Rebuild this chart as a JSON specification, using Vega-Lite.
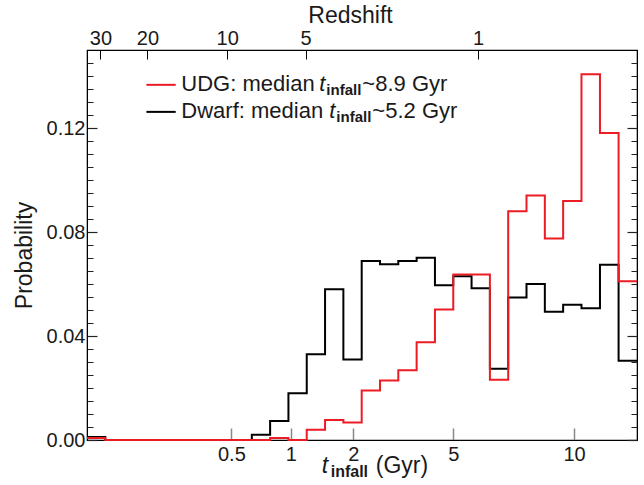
{
 "$schema": "https://vega.github.io/schema/vega-lite/v6.json",
 "width": 550,
 "height": 390,
 "autosize": {"type": "none"},
 "padding": {"left": 87, "top": 50, "right": 7, "bottom": 45},
 "datasets": {
  "hist": [
   {"series": "Dwarf", "t": 0.085, "p": 0.0012},
   {"series": "Dwarf", "t": 0.1063, "p": 0},
   {"series": "Dwarf", "t": 0.1337, "p": 0},
   {"series": "Dwarf", "t": 0.1681, "p": 0},
   {"series": "Dwarf", "t": 0.2105, "p": 0},
   {"series": "Dwarf", "t": 0.263, "p": 0},
   {"series": "Dwarf", "t": 0.3286, "p": 0},
   {"series": "Dwarf", "t": 0.4105, "p": 0},
   {"series": "Dwarf", "t": 0.5124, "p": 0},
   {"series": "Dwarf", "t": 0.6348, "p": 0.002},
   {"series": "Dwarf", "t": 0.7862, "p": 0.0073},
   {"series": "Dwarf", "t": 0.9739, "p": 0.018},
   {"series": "Dwarf", "t": 1.194, "p": 0.033},
   {"series": "Dwarf", "t": 1.462, "p": 0.058},
   {"series": "Dwarf", "t": 1.79, "p": 0.031},
   {"series": "Dwarf", "t": 2.158, "p": 0.0688},
   {"series": "Dwarf", "t": 2.552, "p": 0.0676},
   {"series": "Dwarf", "t": 3.018, "p": 0.0688},
   {"series": "Dwarf", "t": 3.57, "p": 0.0701},
   {"series": "Dwarf", "t": 4.222, "p": 0.0595},
   {"series": "Dwarf", "t": 4.994, "p": 0.063},
   {"series": "Dwarf", "t": 5.55, "p": 0.0584},
   {"series": "Dwarf", "t": 6.167, "p": 0.0274},
   {"series": "Dwarf", "t": 6.851, "p": 0.0548},
   {"series": "Dwarf", "t": 7.611, "p": 0.06},
   {"series": "Dwarf", "t": 8.457, "p": 0.0493},
   {"series": "Dwarf", "t": 9.395, "p": 0.052},
   {"series": "Dwarf", "t": 10.39, "p": 0.0507},
   {"series": "Dwarf", "t": 11.42, "p": 0.0674},
   {"series": "Dwarf", "t": 12.56, "p": 0.0305},
   {"series": "Dwarf", "t": 13.8, "p": 0.0305},
   {"series": "UDG", "t": 0.085, "p": 0.0008},
   {"series": "UDG", "t": 0.1063, "p": 0},
   {"series": "UDG", "t": 0.1337, "p": 0},
   {"series": "UDG", "t": 0.1681, "p": 0},
   {"series": "UDG", "t": 0.2105, "p": 0},
   {"series": "UDG", "t": 0.263, "p": 0},
   {"series": "UDG", "t": 0.3286, "p": 0},
   {"series": "UDG", "t": 0.4105, "p": 0},
   {"series": "UDG", "t": 0.5124, "p": 0},
   {"series": "UDG", "t": 0.6348, "p": 0},
   {"series": "UDG", "t": 0.7862, "p": 0.0008},
   {"series": "UDG", "t": 0.9739, "p": 0},
   {"series": "UDG", "t": 1.194, "p": 0.0039},
   {"series": "UDG", "t": 1.462, "p": 0.0077},
   {"series": "UDG", "t": 1.79, "p": 0.0067},
   {"series": "UDG", "t": 2.158, "p": 0.019},
   {"series": "UDG", "t": 2.552, "p": 0.0229},
   {"series": "UDG", "t": 3.018, "p": 0.0268},
   {"series": "UDG", "t": 3.57, "p": 0.0376},
   {"series": "UDG", "t": 4.222, "p": 0.0502},
   {"series": "UDG", "t": 4.994, "p": 0.0637},
   {"series": "UDG", "t": 5.55, "p": 0.0637},
   {"series": "UDG", "t": 6.167, "p": 0.0232},
   {"series": "UDG", "t": 6.851, "p": 0.088},
   {"series": "UDG", "t": 7.611, "p": 0.094},
   {"series": "UDG", "t": 8.457, "p": 0.0775},
   {"series": "UDG", "t": 9.395, "p": 0.0919},
   {"series": "UDG", "t": 10.39, "p": 0.1407},
   {"series": "UDG", "t": 11.42, "p": 0.1181},
   {"series": "UDG", "t": 12.56, "p": 0.0611},
   {"series": "UDG", "t": 13.8, "p": 0.0611}
  ]
 },
 "config": {
  "font": "Liberation Sans",
  "view": {"stroke": "black", "strokeWidth": 1.2},
  "axis": {
   "grid": false,
   "labelFont": "Liberation Sans",
   "labelFontSize": 20,
   "labelColor": "#1a1a1a",
   "titleFont": "Liberation Sans",
   "titleFontSize": 23,
   "titleFontWeight": "normal",
   "titleColor": "#1a1a1a",
   "domainColor": "black",
   "tickColor": "#222222",
   "labelOverlap": false,
   "labelFlush": false
  }
 },
 "resolve": {"axis": {"x": "independent", "y": "independent"}},
 "layer": [
  {
   "data": {"name": "hist"},
   "transform": [{"filter": "datum.series === 'Dwarf'"}],
   "mark": {"type": "line", "interpolate": "step-after", "color": "black", "strokeWidth": 2},
   "encoding": {
    "x": {
     "field": "t", "type": "quantitative",
     "scale": {"type": "log", "domain": [0.085, 0.1, 0.18, 0.5, 1, 2, 5, 10, 13.8], "range": [0, 13.4, 60.4, 144.4, 203.7, 266.4, 366.4, 487, 550], "nice": false},
     "axis": {"orient": "bottom", "values": [0.5, 1, 2, 5, 10], "format": "~g", "tickSize": -12, "tickColor": "#888888", "tickWidth": 1.5, "labelPadding": 16, "title": null}
    },
    "y": {
     "field": "p", "type": "quantitative",
     "scale": {"domain": [0, 0.15], "nice": false, "zero": true},
     "axis": {"orient": "left", "values": [0, 0.04, 0.08, 0.12], "format": ".2f", "tickSize": -10, "tickWidth": 1.2, "labelPadding": 12, "title": "Probability", "titleX": -63, "titleY": 205, "titleAlign": "center", "titleBaseline": "middle", "titleAngle": 270}
    }
   }
  },
  {
   "data": {"name": "hist"},
   "transform": [{"filter": "datum.series === 'UDG'"}],
   "mark": {"type": "line", "interpolate": "step-after", "color": "#ec1c24", "strokeWidth": 2},
   "encoding": {
    "x": {
     "field": "t", "type": "quantitative",
     "axis": {"orient": "top", "values": [0.1, 0.18, 0.475, 1.18, 5.76], "labelExpr": "datum.value < 0.15 ? '30' : datum.value < 0.3 ? '20' : datum.value < 0.8 ? '10' : datum.value < 3 ? '5' : '1'", "tickSize": -9, "tickColor": "black", "labelPadding": 11, "title": "Redshift", "titleX": 263, "titleY": -35, "titleAlign": "center", "titleBaseline": "middle"}
    },
    "y": {
     "field": "p", "type": "quantitative",
     "axis": {"orient": "right", "values": [0, 0.04, 0.08, 0.12], "labels": false, "tickSize": -10, "tickWidth": 1.2, "title": null}
    }
   }
  },
  {
   "data": {"name": "hist"},
   "mark": {"type": "point", "opacity": 0},
   "encoding": {
    "x": {"field": "t", "type": "quantitative", "axis": null},
    "y": {"field": "p", "type": "quantitative", "axis": {"orient": "left", "values": [0.005, 0.01, 0.015, 0.02, 0.025, 0.03, 0.035, 0.045, 0.05, 0.055, 0.06, 0.065, 0.07, 0.075, 0.085, 0.09, 0.095, 0.1, 0.105, 0.11, 0.115, 0.125, 0.13, 0.135, 0.14, 0.145], "labels": false, "domain": false, "tickSize": -6, "title": null}}
   }
  },
  {
   "data": {"name": "hist"},
   "mark": {"type": "point", "opacity": 0},
   "encoding": {
    "x": {"field": "t", "type": "quantitative", "axis": null},
    "y": {"field": "p", "type": "quantitative", "axis": {"orient": "right", "values": [0.005, 0.01, 0.015, 0.02, 0.025, 0.03, 0.035, 0.045, 0.05, 0.055, 0.06, 0.065, 0.07, 0.075, 0.085, 0.09, 0.095, 0.1, 0.105, 0.11, 0.115, 0.125, 0.13, 0.135, 0.14, 0.145], "labels": false, "domain": false, "tickSize": -6, "title": null}}
   }
  },
  {
   "data": {"values": [{"series": "UDG"}]},
   "mark": {"type": "rule", "color": "#ec1c24", "strokeWidth": 2},
   "encoding": {
    "x": {"datum": 0.1778, "type": "quantitative", "axis": null},
    "x2": {"datum": 0.254},
    "y": {"datum": 0.1366, "type": "quantitative", "axis": null}
   }
  },
  {
   "data": {"values": [{"series": "Dwarf"}]},
   "mark": {"type": "rule", "color": "black", "strokeWidth": 2},
   "encoding": {
    "x": {"datum": 0.1778, "type": "quantitative", "axis": null},
    "x2": {"datum": 0.254},
    "y": {"datum": 0.1262, "type": "quantitative", "axis": null}
   }
  },
  {
   "data": {"values": [{"label": "UDG: median"}]},
   "mark": {"type": "text", "align": "left", "baseline": "middle", "fontSize": 22, "color": "#1a1a1a"},
   "encoding": {
    "x": {"datum": 0.272, "type": "quantitative", "axis": null},
    "y": {"datum": 0.1369, "type": "quantitative", "axis": null},
    "text": {"field": "label"}
   }
  },
  {
   "data": {"values": [{"label": "t"}]},
   "mark": {"type": "text", "align": "left", "baseline": "middle", "fontSize": 22, "fontStyle": "italic", "dx": 138, "color": "#1a1a1a"},
   "encoding": {
    "x": {"datum": 0.272, "type": "quantitative", "axis": null},
    "y": {"datum": 0.1369, "type": "quantitative", "axis": null},
    "text": {"field": "label"}
   }
  },
  {
   "data": {"values": [{"label": "infall"}]},
   "mark": {"type": "text", "align": "left", "baseline": "middle", "fontSize": 15, "fontWeight": "bold", "dx": 145, "dy": 6, "color": "#1a1a1a"},
   "encoding": {
    "x": {"datum": 0.272, "type": "quantitative", "axis": null},
    "y": {"datum": 0.1369, "type": "quantitative", "axis": null},
    "text": {"field": "label"}
   }
  },
  {
   "data": {"values": [{"label": "~8.9 Gyr"}]},
   "mark": {"type": "text", "align": "left", "baseline": "middle", "fontSize": 22, "dx": 181, "color": "#1a1a1a"},
   "encoding": {
    "x": {"datum": 0.272, "type": "quantitative", "axis": null},
    "y": {"datum": 0.1369, "type": "quantitative", "axis": null},
    "text": {"field": "label"}
   }
  },
  {
   "data": {"values": [{"label": "Dwarf: median"}]},
   "mark": {"type": "text", "align": "left", "baseline": "middle", "fontSize": 22, "color": "#1a1a1a"},
   "encoding": {
    "x": {"datum": 0.272, "type": "quantitative", "axis": null},
    "y": {"datum": 0.1266, "type": "quantitative", "axis": null},
    "text": {"field": "label"}
   }
  },
  {
   "data": {"values": [{"label": "t"}]},
   "mark": {"type": "text", "align": "left", "baseline": "middle", "fontSize": 22, "fontStyle": "italic", "dx": 148, "color": "#1a1a1a"},
   "encoding": {
    "x": {"datum": 0.272, "type": "quantitative", "axis": null},
    "y": {"datum": 0.1266, "type": "quantitative", "axis": null},
    "text": {"field": "label"}
   }
  },
  {
   "data": {"values": [{"label": "infall"}]},
   "mark": {"type": "text", "align": "left", "baseline": "middle", "fontSize": 15, "fontWeight": "bold", "dx": 155, "dy": 6, "color": "#1a1a1a"},
   "encoding": {
    "x": {"datum": 0.272, "type": "quantitative", "axis": null},
    "y": {"datum": 0.1266, "type": "quantitative", "axis": null},
    "text": {"field": "label"}
   }
  },
  {
   "data": {"values": [{"label": "~5.2 Gyr"}]},
   "mark": {"type": "text", "align": "left", "baseline": "middle", "fontSize": 22, "dx": 191, "color": "#1a1a1a"},
   "encoding": {
    "x": {"datum": 0.272, "type": "quantitative", "axis": null},
    "y": {"datum": 0.1266, "type": "quantitative", "axis": null},
    "text": {"field": "label"}
   }
  },
  {
   "data": {"values": [{"label": "t"}]},
   "mark": {"type": "text", "align": "left", "baseline": "middle", "fontSize": 23, "fontStyle": "italic", "color": "#1a1a1a"},
   "encoding": {
    "x": {"datum": 1.409, "type": "quantitative", "axis": null},
    "y": {"datum": -0.01, "type": "quantitative", "axis": null},
    "text": {"field": "label"}
   }
  },
  {
   "data": {"values": [{"label": "infall"}]},
   "mark": {"type": "text", "align": "left", "baseline": "middle", "fontSize": 16, "fontWeight": "bold", "dx": 9, "dy": 6, "color": "#1a1a1a"},
   "encoding": {
    "x": {"datum": 1.409, "type": "quantitative", "axis": null},
    "y": {"datum": -0.01, "type": "quantitative", "axis": null},
    "text": {"field": "label"}
   }
  },
  {
   "data": {"values": [{"label": "(Gyr)"}]},
   "mark": {"type": "text", "align": "left", "baseline": "middle", "fontSize": 23, "dx": 54, "color": "#1a1a1a"},
   "encoding": {
    "x": {"datum": 1.409, "type": "quantitative", "axis": null},
    "y": {"datum": -0.01, "type": "quantitative", "axis": null},
    "text": {"field": "label"}
   }
  }
 ]
}
